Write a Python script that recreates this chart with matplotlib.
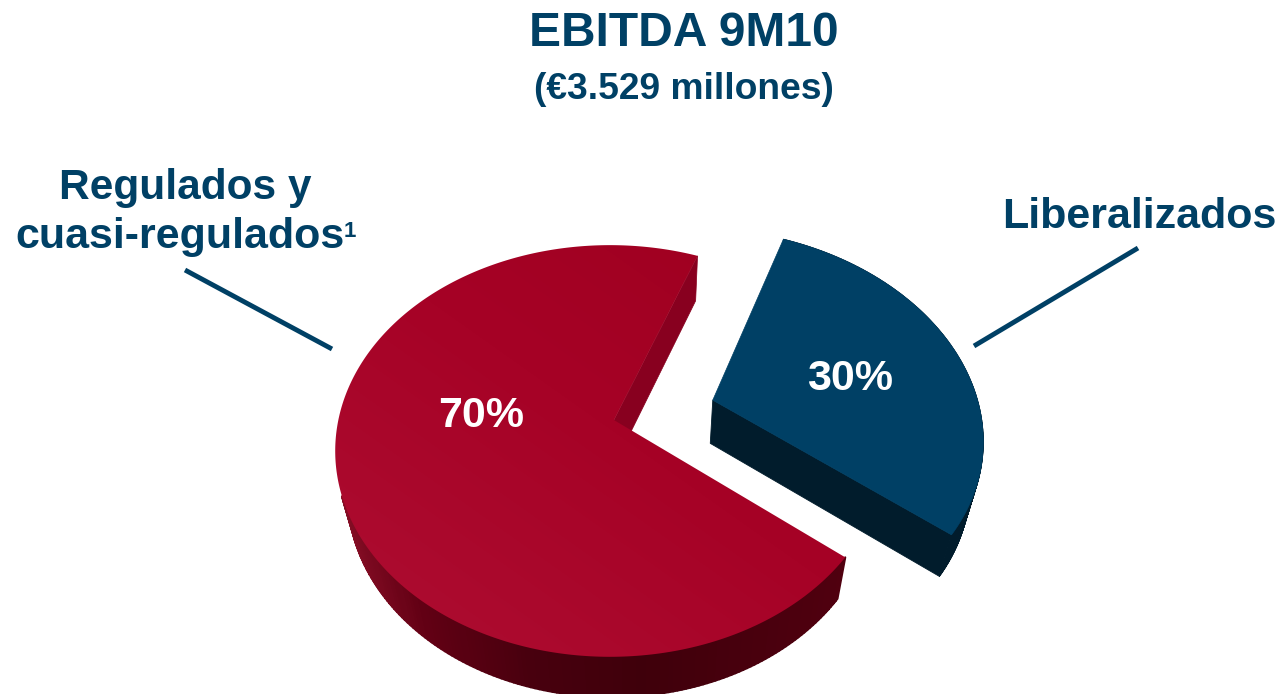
#3d exploded pie, EBITDA split
import numpy as np
import matplotlib
matplotlib.use('Agg')
import matplotlib.pyplot as plt
from matplotlib.collections import PolyCollection
from matplotlib.colors import LinearSegmentedColormap
from matplotlib.patches import Polygon

labels = ['Liberalizados', 'Regulados y', 'cuasi-regulados']
footnote_mark = '1'
values = [30, 70]
value_labels = ['30%', '70%']
title = 'EBITDA 9M10'
subtitle = '(€3.529 millones)'

navy = '#004065'
plt.rcParams['font.family'] = ['Liberation Sans', 'DejaVu Sans']

# the pie itself is laid out on a scratch axes, only angles and offsets are kept
scratch_fig, scratch_ax = plt.subplots()
wedges = scratch_ax.pie(values, startangle=-38.7, explode=[0.385, 0])[0]
plt.close(scratch_fig)


# perspective tilt of the flat pie, then ellipse on the page (pixels, y down)
def project(xy):
    cx, cy, rx, ry = 610, 451, 275, 206
    r, ux, uy = 0.151, 0.096, 0.995
    s = xy[:, 0] * ux + xy[:, 1] * uy
    t = -xy[:, 0] * uy + xy[:, 1] * ux
    w = 1 + r * s
    s2 = (s + r) / w
    t2 = t * np.sqrt(1 - r ** 2) / w
    x = s2 * ux - t2 * uy
    y = s2 * uy + t2 * ux
    return np.column_stack([cx + rx * x, cy - ry * y])


# lower face of the slab
def drop(pts):
    x = pts[:, 0] - 0.04 * (pts[:, 0] - 650)
    y = pts[:, 1] + 45 - 0.012 * (pts[:, 1] - 255)
    return np.column_stack([x, y])


def wedge_outline(wedge, scale=1.0):
    ang = np.radians(np.linspace(wedge.theta1, wedge.theta2, 300))
    arc = np.column_stack([np.cos(ang), np.sin(ang)]) * wedge.r * scale + wedge.center
    return project(arc), project(np.array([wedge.center]))


def side_quads(pts):
    low = drop(pts)
    return [[pts[i], pts[i + 1], low[i + 1], low[i]] for i in range(len(pts) - 1)]


fig = plt.figure(figsize=(12.79, 6.94), dpi=100)
ax = fig.add_axes([0, 0, 1, 1])

blue_arc, blue_apex = wedge_outline(wedges[0], scale=1.015)
red_arc, red_apex = wedge_outline(wedges[1])

# red outer wall, shaded by x, front part only
wall_cmap = LinearSegmentedColormap.from_list(
    'wall', [(0, '#8a0f27'), (0.17, '#620014'), (0.38, '#48000e'), (0.6, '#3f000b'), (1, '#50000f')])
quads = side_quads(red_arc[red_arc[:, 1] > 495])
xmid = np.array([np.mean(q, axis=0)[0] for q in quads])
cols = wall_cmap((xmid - 340) / 505)
ax.add_collection(PolyCollection(quads, facecolors=cols, edgecolors=cols, linewidths=1.5))

# red inner wall, seen through the gap
inner = np.vstack([red_apex, red_arc[:1]])
ax.add_patch(Polygon(np.vstack([inner, drop(inner)[::-1]]), closed=True, fc='#88001f', ec='#88001f', lw=0.5))

# red top with soft gradient
top_cmap = LinearSegmentedColormap.from_list('top', ['#9e001f', '#a60226', '#ad0c30'])
gx, gy = np.meshgrid(np.arange(0, 1279, 4), np.arange(0, 694, 4))
shade = np.clip(0.5 * (gy - 245) / 355 + 0.5 * (850 - gx) / 500, 0, 1)
img = ax.imshow(shade, cmap=top_cmap, vmin=0, vmax=1, extent=[0, 1279, 694, 0], aspect='auto',
                interpolation='bilinear', zorder=2)
red_top = Polygon(np.vstack([red_arc, red_apex]), closed=True, fc='none', ec='none', transform=ax.transData)
ax.add_patch(red_top)
img.set_clip_path(red_top)

# blue slab
front = np.vstack([blue_apex, blue_arc])
blue_quads = side_quads(front)
ax.add_collection(PolyCollection(blue_quads, facecolors='#011c2c', edgecolors='#011c2c', linewidths=0.6, zorder=3))
ax.add_patch(Polygon(np.vstack([blue_arc, blue_apex]), closed=True, fc=navy, ec=navy, lw=0.5, zorder=4))

# leader lines
ax.plot([185, 332], [270, 349], color=navy, lw=3.5, solid_capstyle='butt', zorder=5)
ax.plot([1138, 974], [248, 346], color=navy, lw=3.5, solid_capstyle='butt', zorder=5)

# texts
ax.text(684, 33, title, ha='center', va='center', fontsize=34.5, fontweight='bold', color=navy)
ax.text(684, 89, subtitle, ha='center', va='center', fontsize=26.8, fontweight='bold', color=navy)
ax.text(1139, 217, labels[0], ha='center', va='center', fontsize=31, fontweight='bold', color=navy)
ax.text(185, 188, labels[1], ha='center', va='center', fontsize=30.5, fontweight='bold', color=navy)
ax.text(15, 237, labels[2], ha='left', va='center', fontsize=31, fontweight='bold', color=navy)
ax.text(344, 231, footnote_mark, ha='left', va='center', fontsize=16, fontweight='bold', color=navy)
ax.text(850, 379, value_labels[0], ha='center', va='center', fontsize=31, fontweight='bold', color='white', zorder=6)
ax.text(481, 416, value_labels[1], ha='center', va='center', fontsize=31, fontweight='bold', color='white', zorder=6)

ax.set_xlim(0, 1279)
ax.set_ylim(694, 0)
ax.axis('off')

fig.savefig('out.png', dpi=100)
